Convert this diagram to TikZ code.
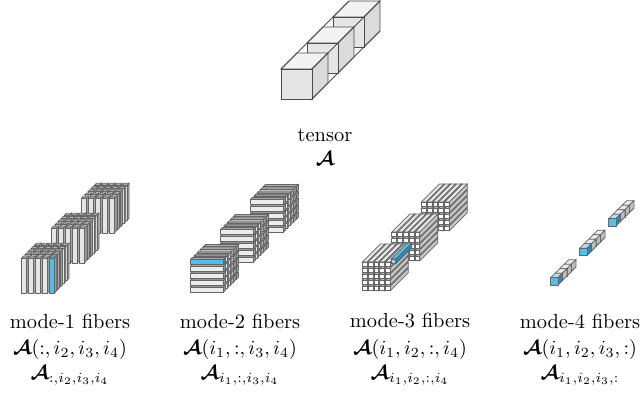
\documentclass[tikz,border=0pt]{standalone}
\usepackage{amsmath, amssymb}
\usepackage{xcolor}
\usepackage{tikz}
\definecolor{fiberBlue}{RGB}{84,190,232}
\definecolor{fiberDark}{RGB}{50,135,175}
% box: x, y (top left of front face), width, height, depth, front, top, side
\newcommand{\cell}[8]{%
  \filldraw[cellLine, fill=#7] (#1,#2) -- ++(#5,-#5) -- ++(#3,0) -- ++(-#5,#5) -- cycle;
  \filldraw[cellLine, fill=#8] (#1+#3,#2) -- ++(#5,-#5) -- ++(0,#4) -- ++(-#5,#5) -- cycle;
  \filldraw[cellLine, fill=#6] (#1,#2) rectangle ++(#3,#4);
}
\begin{document}
\begin{tikzpicture}[
  x=0.48pt, y=-0.48pt,
  cellLine/.style={draw=black!60, line width=0.36pt},
  cubeLine/.style={draw=black!70, line width=0.45pt},
  lbl/.style={inner sep=0pt, anchor=center, scale=0.96},
  modeName/.style={inner sep=0pt, anchor=center, scale=0.98},
]
\useasboundingbox (0,0) rectangle (640,407);
% tensor
\foreach \k in {2,1,0} {
  \filldraw[cubeLine, fill=gray!10] (281+26*\k,69-26*\k) -- ++(16,-16) -- ++(31,0) -- ++(-16,16) -- cycle;
  \filldraw[cubeLine, fill=gray!28] (312+26*\k,69-26*\k) -- ++(16,-16) -- ++(0,30) -- ++(-16,16) -- cycle;
  \filldraw[cubeLine, fill=gray!20] (281+26*\k,69-26*\k) rectangle ++(31,30);
}
\draw[cubeLine] (281,69) -- (349,1);
\draw[cubeLine] (312,69) -- (380,1);
\draw[cubeLine] (312,99) -- (380,31);
% mode-1
\foreach \b in {2,1,0} {
  \foreach \k in {4,3,2,1,0} {
    \foreach \i in {0,...,4} {
      \pgfmathsetmacro{\px}{21.7+30*\b+6.9*\i+3.2*\k}
      \pgfmathsetmacro{\py}{258-30*\b-3.2*\k}
      \cell{\px}{\py}{5}{35}{1.9}{gray!20}{gray!55}{gray!70}
    }
  }
}
\cell{49.3}{258}{5}{35}{1.9}{fiberBlue}{fiberBlue}{gray!70}
% mode-2
\foreach \b in {2,1,0} {
  \foreach \k in {4,3,2,1,0} {
    \foreach \j in {4,3,2,1,0} {
      \pgfmathsetmacro{\px}{190.7+30*\b+3.2*\k}
      \pgfmathsetmacro{\py}{259.3-30*\b-3.2*\k+6.9*\j}
      \cell{\px}{\py}{33}{5}{1.9}{gray!15}{gray!65}{gray!70}
    }
  }
}
\cell{190.7}{259.3}{33}{5}{1.9}{fiberBlue}{gray!65}{fiberDark}
% mode-3
\foreach \b in {2,1,0} {
  \foreach \j in {4,3,2,1,0} {
    \foreach \i in {0,...,4} {
      \pgfmathsetmacro{\px}{362.3+29.5*\b+5.8*\i}
      \pgfmathsetmacro{\py}{262-30*\b+6*\j}
      \cell{\px}{\py}{4.8}{4.8}{18}{white}{gray!20}{gray!45}
    }
  }
}
\cell{391}{259}{4.8}{4.8}{16}{fiberBlue!60}{fiberBlue}{fiberDark}
% mode-4
\foreach \b in {0,1,2} {
  \foreach \k in {3,2,1,0} {
    \pgfmathsetmacro{\px}{550.7+29*\b+4.5*\k}
    \pgfmathsetmacro{\py}{277.7-29.5*\b-4.5*\k}
    \ifnum\k=0
      \cell{\px}{\py}{7.3}{7.3}{4.5}{fiberBlue}{fiberBlue!45}{fiberDark}
    \else
      \cell{\px}{\py}{7.3}{7.3}{4.5}{white}{gray!15}{gray!50}
    \fi
  }
}
% labels
\node[modeName] (tensorName) at (325,135) {tensor};
\node[lbl] (tensorSym) at (325,159) {$\boldsymbol{\mathcal{A}}$};
\node[modeName] (m1name) at (70,321) {mode-1 fibers};
\node[lbl] (m1full) at (70,349) {$\boldsymbol{\mathcal{A}}(:,i_2,i_3,i_4)$};
\node[lbl] (m1sub) at (70,375) {$\boldsymbol{\mathcal{A}}_{:,i_2,i_3,i_4}$};
\node[modeName] (m2name) at (240,321) {mode-2 fibers};
\node[lbl] (m2full) at (240,349) {$\boldsymbol{\mathcal{A}}(i_1,:,i_3,i_4)$};
\node[lbl] (m2sub) at (240,375) {$\boldsymbol{\mathcal{A}}_{i_1,:,i_3,i_4}$};
\node[modeName] (m3name) at (410,321) {mode-3 fibers};
\node[lbl] (m3full) at (410,349) {$\boldsymbol{\mathcal{A}}(i_1,i_2,:,i_4)$};
\node[lbl] (m3sub) at (410,375) {$\boldsymbol{\mathcal{A}}_{i_1,i_2,:,i_4}$};
\node[modeName] (m4name) at (580,321) {mode-4 fibers};
\node[lbl] (m4full) at (580,349) {$\boldsymbol{\mathcal{A}}(i_1,i_2,i_3,:)$};
\node[lbl] (m4sub) at (580,375) {$\boldsymbol{\mathcal{A}}_{i_1,i_2,i_3,:}$};
\end{tikzpicture}
\end{document}
